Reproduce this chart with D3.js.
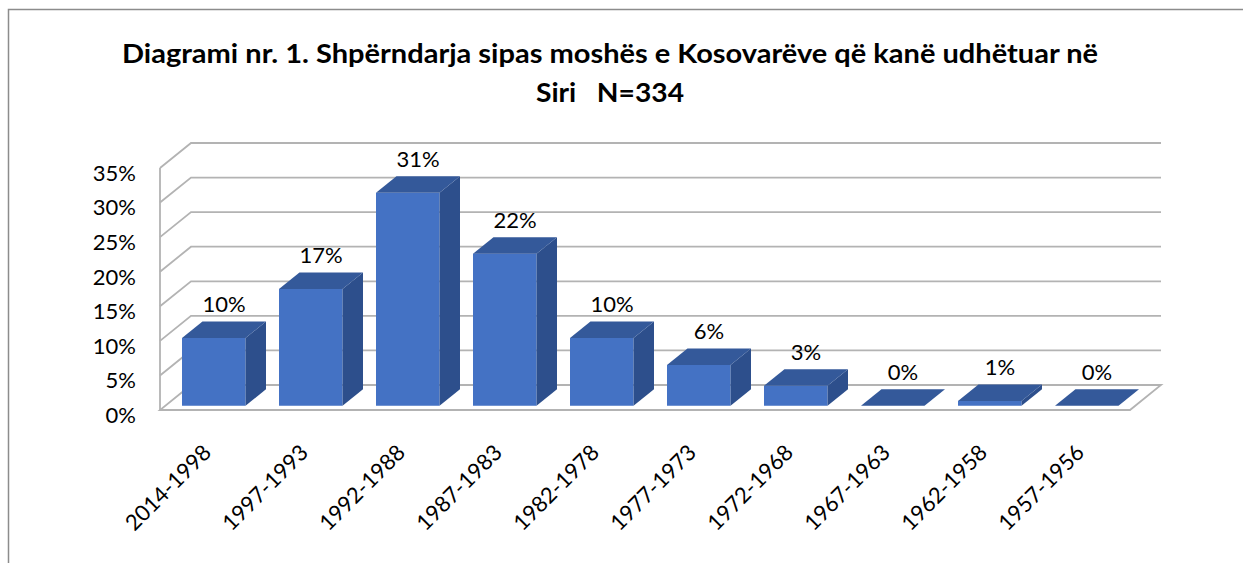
<!DOCTYPE html>
<html>
<head>
<meta charset="utf-8">
<script src="https://cdn.jsdelivr.net/npm/d3@7"></script>
<style>
  body { margin: 0; background: #fff; }
  text { font-family: Lato, "Open Sans", sans-serif; fill: #000; }
</style>
</head>
<body>
<div id="chart"></div>
<script>
// data
const categories = ["2014-1998", "1997-1993", "1992-1988", "1987-1983", "1982-1978",
                    "1977-1973", "1972-1968", "1967-1963", "1962-1958", "1957-1956"];
const shares = [0.098, 0.169, 0.308, 0.220, 0.098, 0.059, 0.029, 0, 0.007, 0];
const yTicks = [0, 0.05, 0.10, 0.15, 0.20, 0.25, 0.30, 0.35];
const titleLines = ["Diagrami nr. 1. Shpërndarja sipas moshës e Kosovarëve që kanë udhëtuar në",
                    "Siri   N=334"];

const width = 1243, height = 563;
const depthX = 31, depthY = -25;        // offset of the back wall
const f0 = 0.17, f1 = 0.83;             // bar front / back as share of depth

let svg = d3.select("#chart")
    .append("svg")
    .attr("width", width)
    .attr("height", height);

// chart frame
svg.append("path")
    .attr("d", `M${width + 2},9.5 H8.5 V${height + 2}`)
    .attr("fill", "none")
    .attr("stroke", "#8c8c8c")
    .attr("stroke-width", 1.5);

let x = d3.scaleBand()
    .domain(categories)
    .range([160, 1130]);

let y = d3.scaleLinear()
    .domain([0, 0.35])
    .range([410, 168]);

const x0 = x.range()[0], x1 = x.range()[1];
const grid = "#b3b3b3";

// floor
svg.append("path")
    .attr("d", `M${x0},${y(0)} H${x1} l${depthX},${depthY} H${x0 + depthX} Z`)
    .attr("fill", "#fff")
    .attr("stroke", grid)
    .attr("stroke-width", 1.8);

// side wall edge
svg.append("line")
    .attr("x1", x0).attr("x2", x0)
    .attr("y1", y(0)).attr("y2", y(0.35))
    .attr("stroke", grid)
    .attr("stroke-width", 1.8);

// gridlines: diagonal on side wall, horizontal on back wall
let gridG = svg.append("g");
gridG.selectAll("path")
    .data(yTicks.filter(d => d > 0))
    .enter()
    .append("path")
    .attr("d", d => `M${x0},${y(d)} l${depthX},${depthY} H${x1 + depthX}`)
    .attr("fill", "none")
    .attr("stroke", grid)
    .attr("stroke-width", 1.8);

// y axis labels
svg.append("g")
    .attr("transform", `translate(${x0 - 24},0)`)
    .call(d3.axisLeft(y).tickValues(yTicks).tickFormat(d3.format(".0%")).tickSize(0).tickPadding(0))
    .call(g => g.select(".domain").remove())
    .call(g => g.selectAll("text")
        .attr("dy", "0.38em")
        .attr("transform", "translate(0,4)")
        .style("font-family", "Lato, sans-serif")
        .style("font-size", "22px")
        .style("fill", "#000"));

// 3d bars
const barW = x.bandwidth() * 0.655;
const inset = (x.bandwidth() - barW) / 2;
const bd = f1 - f0;

let bars = svg.append("g").selectAll("g")
    .data(categories.map((c, i) => ({ cat: c, v: shares[i] })))
    .enter()
    .append("g")
    .attr("transform", `translate(${depthX * f0},${depthY * f0})`);

// front
bars.append("rect")
    .attr("x", d => x(d.cat) + inset)
    .attr("y", d => y(d.v))
    .attr("width", barW)
    .attr("height", d => y(0) - y(d.v))
    .attr("fill", "#4472c4");

// side
bars.append("path")
    .attr("d", d => {
        let bx = x(d.cat) + inset + barW;
        return `M${bx},${y(0)} V${y(d.v)} l${depthX * bd},${depthY * bd} V${y(0) + depthY * bd} Z`;
    })
    .attr("fill", "#2d4f8c");

// top
bars.append("path")
    .attr("d", d => {
        let bx = x(d.cat) + inset;
        return `M${bx},${y(d.v)} h${barW} l${depthX * bd},${depthY * bd} h${-barW} Z`;
    })
    .attr("fill", "#34599a");

// value labels
svg.append("g").selectAll("text")
    .data(categories.map((c, i) => ({ cat: c, v: shares[i] })))
    .enter()
    .append("text")
    .attr("x", d => x(d.cat) + x.bandwidth() / 2 + depthX * 0.5)
    .attr("y", d => y(d.v) + depthY * f1 - 9)
    .style("text-anchor", "middle")
    .style("font-size", "22px")
    .text(d => d3.format(".0%")(d.v));

// category labels
svg.append("g").selectAll("text")
    .data(categories)
    .enter()
    .append("text")
    .attr("transform", d => `translate(${x(d) + x.bandwidth() / 2 + 4},454) rotate(-45)`)
    .style("text-anchor", "end")
    .style("font-size", "22px")
    .text(d => d);

// title
svg.append("g").selectAll("text")
    .data(titleLines)
    .enter()
    .append("text")
    .attr("x", 610)
    .attr("y", (d, i) => 63 + i * 39)
    .style("text-anchor", "middle")
    .style("font-weight", "bold")
    .style("font-size", "27px")
    .style("white-space", "pre")
    .attr("xml:space", "preserve")
    .attr("textLength", (d, i) => i == 0 ? 976 : 148)
    .attr("lengthAdjust", "spacingAndGlyphs")
    .text(d => d);
</script>
</body>
</html>
